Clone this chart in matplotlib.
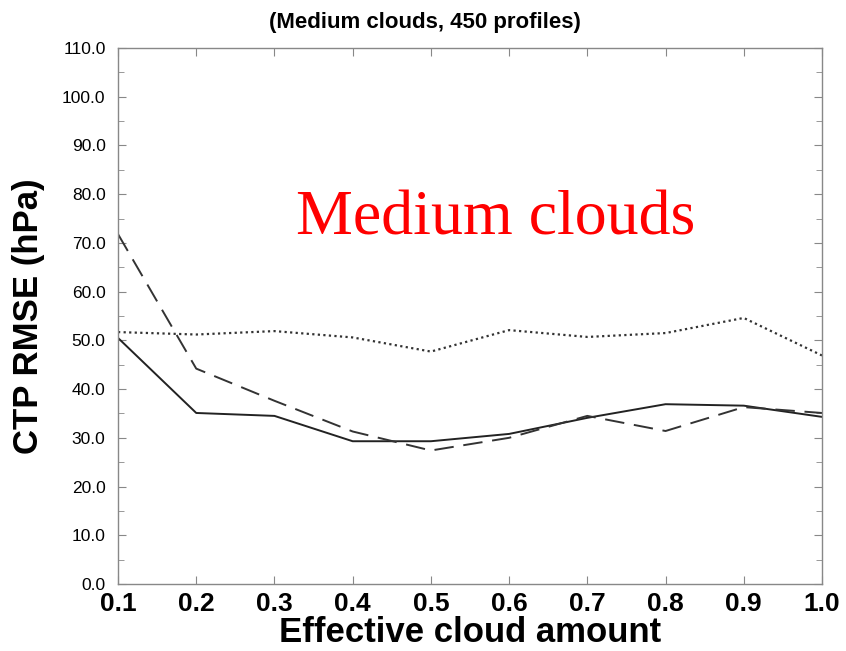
import matplotlib
matplotlib.use("Agg")
import matplotlib.pyplot as plt
import matplotlib.ticker as mplticker
from matplotlib import font_manager

#
# Data
#

cloud_amount = [0.1, 0.2, 0.3, 0.4, 0.5, 0.6, 0.7, 0.8, 0.9, 1.0]
rmse_solid = [50.5, 35.1, 34.5, 29.3, 29.3, 30.8, 34.1, 36.9, 36.6, 34.3]
rmse_dashed = [71.8, 44.2, 37.6, 31.3, 27.4, 30.0, 34.5, 31.4, 36.3, 35.1]
rmse_dotted = [51.7, 51.2, 51.9, 50.6, 47.7, 52.1, 50.7, 51.5, 54.6, 46.9]
y_ticks = [0, 10, 20, 30, 40, 50, 60, 70, 80, 90, 100, 110]

names = {f.name for f in font_manager.fontManager.ttflist}
narrow = "Liberation Sans Narrow" if "Liberation Sans Narrow" in names else "Liberation Sans"

#
# Graph
#

fig = plt.figure(figsize=(8.46, 6.51), dpi=100)
ax = fig.add_axes([0.1395, 0.1029, 0.8321, 0.8234])

ax.plot(cloud_amount, rmse_solid, color="#222222", lw=1.4, ls="-")
ax.plot(cloud_amount, rmse_dashed, color="#333333", lw=1.4, ls=(0, (10, 5)))
ax.plot(cloud_amount, rmse_dotted, color="#333333", lw=1.6, ls=(0, (1, 1.5)))

ax.set_xlim(0.1, 1.0)
ax.set_ylim(0, 110)
ax.set_xticks(cloud_amount)
ax.set_yticks(y_ticks)
ax.yaxis.set_minor_locator(mplticker.MultipleLocator(5))
ax.xaxis.set_major_formatter(mplticker.FormatStrFormatter("%.1f"))
ax.yaxis.set_major_formatter(mplticker.FormatStrFormatter("%.1f"))

for s in ax.spines.values():
    s.set_color("#888888")
    s.set_linewidth(1.0)
ax.tick_params(which="both", direction="in", top=True, right=True, color="#888888")
ax.tick_params(which="major", length=6)
ax.tick_params(which="minor", length=4)
ax.tick_params(axis="x", pad=6)
ax.tick_params(axis="y", pad=9)

for lab in ax.get_xticklabels():
    lab.set_fontfamily(narrow)
    lab.set_fontweight("bold")
    lab.set_fontsize(19)
for lab in ax.get_yticklabels():
    lab.set_fontfamily(narrow)
    lab.set_fontsize(12.5)

ax.set_xlabel("Effective cloud amount", fontfamily=narrow, fontweight="bold", fontsize=25, labelpad=0)
ax.set_ylabel("CTP RMSE (hPa)", fontfamily=narrow, fontweight="bold", fontsize=25, labelpad=12)
fig.text(0.502, 0.966, "(Medium clouds, 450 profiles)", ha="center", va="center",
         fontfamily=narrow, fontweight="bold", fontsize=16)
ax.text(0.537, 0.68, "Medium clouds", transform=ax.transAxes, ha="center", va="center",
        fontfamily="Liberation Serif", fontsize=46, color="red")

fig.savefig("out.png", dpi=100)
